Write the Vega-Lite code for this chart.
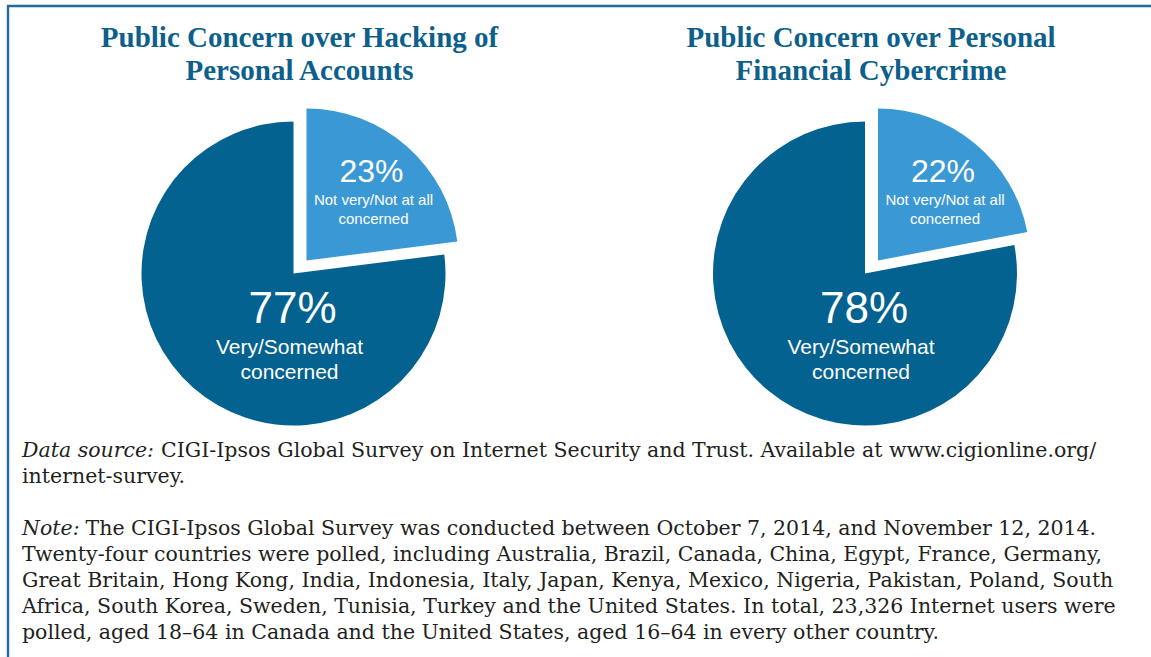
{
  "$schema": "https://vega.github.io/schema/vega-lite/v6.json",
  "width": 1155,
  "height": 663,
  "autosize": {"type": "none"},
  "padding": {"left": 8, "top": 6, "right": -12, "bottom": -12},
  "background": "white",
  "config": {"view": {"stroke": "#1f6b9b", "strokeWidth": 2.4}},
  "datasets": {
    "slices": [
      {"chart": "Hacking of Personal Accounts", "level": "Not very/Not at all\nconcerned", "share": 0.23},
      {"chart": "Hacking of Personal Accounts", "level": "Very/Somewhat\nconcerned", "share": 0.77},
      {"chart": "Personal Financial Cybercrime", "level": "Not very/Not at all\nconcerned", "share": 0.22},
      {"chart": "Personal Financial Cybercrime", "level": "Very/Somewhat\nconcerned", "share": 0.78}
    ],
    "titles": [
      {"chart": "Hacking of Personal Accounts", "title": "Public Concern over Hacking of\nPersonal Accounts"},
      {"chart": "Personal Financial Cybercrime", "title": "Public Concern over Personal\nFinancial Cybercrime"}
    ],
    "notes": [
      {"line": 1, "prefix": "Data source:", "body": "CIGI-Ipsos Global Survey on Internet Security and Trust. Available at www.cigionline.org/"},
      {"line": 2, "body": "internet-survey."},
      {"line": 4, "prefix": "Note:", "body": "The CIGI-Ipsos Global Survey was conducted between October 7, 2014, and November 12, 2014."},
      {"line": 5, "body": "Twenty-four countries were polled, including Australia, Brazil, Canada, China, Egypt, France, Germany,"},
      {"line": 6, "body": "Great Britain, Hong Kong, India, Indonesia, Italy, Japan, Kenya, Mexico, Nigeria, Pakistan, Poland, South"},
      {"line": 7, "body": "Africa, South Korea, Sweden, Tunisia, Turkey and the United States. In total, 23,326 Internet users were"},
      {"line": 8, "body": "polled, aged 18–64 in Canada and the United States, aged 16–64 in every other country."}
    ]
  },
  "layer": [
    {
      "data": {"name": "slices"},
      "transform": [
        {"stack": "share", "groupby": ["chart"], "sort": [{"field": "level", "order": "ascending"}], "as": ["t0", "t1"]},
        {"filter": {"field": "level", "equal": "Very/Somewhat\nconcerned"}}
      ],
      "mark": {"type": "arc", "radius": 152, "yOffset": -64, "fill": "#03628f"},
      "encoding": {
        "x": {"field": "chart", "type": "nominal", "axis": null, "sort": null,
              "scale": {"type": "point", "domain": ["Hacking of Personal Accounts", "Personal Financial Cybercrime"], "padding": 0.5105, "align": 0.4893}},
        "theta": {"field": "t0", "type": "quantitative", "scale": {"domain": [0, 1]}},
        "theta2": {"field": "t1"}
      }
    },
    {
      "data": {"name": "slices"},
      "transform": [
        {"stack": "share", "groupby": ["chart"], "sort": [{"field": "level", "order": "ascending"}], "as": ["t0", "t1"]},
        {"filter": {"field": "level", "equal": "Not very/Not at all\nconcerned"}}
      ],
      "mark": {"type": "arc", "radius": 152, "xOffset": 13, "yOffset": -77, "fill": "#3a98d4"},
      "encoding": {
        "x": {"field": "chart", "type": "nominal", "axis": null},
        "theta": {"field": "t0", "type": "quantitative"},
        "theta2": {"field": "t1"}
      }
    },
    {
      "data": {"name": "slices"},
      "transform": [{"filter": {"field": "level", "equal": "Very/Somewhat\nconcerned"}}],
      "mark": {"type": "text", "font": "Liberation Sans", "fontSize": 44, "fill": "white", "align": "center", "baseline": "middle", "dx": -1, "yOffset": -27.5},
      "encoding": {
        "x": {"field": "chart", "type": "nominal", "axis": null},
        "text": {"field": "share", "type": "quantitative", "format": ".0%"}
      }
    },
    {
      "data": {"name": "slices"},
      "transform": [{"filter": {"field": "level", "equal": "Very/Somewhat\nconcerned"}}],
      "mark": {"type": "text", "font": "Liberation Sans", "fontSize": 21, "lineHeight": 25, "lineBreak": "\n", "fill": "white", "align": "center", "baseline": "middle", "dx": -4, "yOffset": 10.5},
      "encoding": {
        "x": {"field": "chart", "type": "nominal", "axis": null},
        "text": {"field": "level", "type": "nominal"}
      }
    },
    {
      "data": {"name": "slices"},
      "transform": [{"filter": {"field": "level", "equal": "Not very/Not at all\nconcerned"}}],
      "mark": {"type": "text", "font": "Liberation Sans", "fontSize": 32, "fill": "white", "align": "center", "baseline": "middle", "dx": 78, "yOffset": -165.5},
      "encoding": {
        "x": {"field": "chart", "type": "nominal", "axis": null},
        "text": {"field": "share", "type": "quantitative", "format": ".0%"}
      }
    },
    {
      "data": {"name": "slices"},
      "transform": [{"filter": {"field": "level", "equal": "Not very/Not at all\nconcerned"}}],
      "mark": {"type": "text", "font": "Liberation Sans", "fontSize": 15, "lineHeight": 19, "lineBreak": "\n", "fill": "white", "align": "center", "baseline": "middle", "dx": 80, "yOffset": -137.5},
      "encoding": {
        "x": {"field": "chart", "type": "nominal", "axis": null},
        "text": {"field": "level", "type": "nominal"}
      }
    },
    {
      "data": {"name": "titles"},
      "mark": {"type": "text", "font": "Liberation Serif", "fontWeight": "bold", "fontSize": 29, "lineHeight": 33, "lineBreak": "\n", "fill": "#0d5f8c", "align": "center", "baseline": "middle", "dx": 6, "yOffset": -299.5},
      "encoding": {
        "x": {"field": "chart", "type": "nominal", "axis": null},
        "text": {"field": "title", "type": "nominal"}
      }
    },
    {
      "data": {"name": "notes"},
      "transform": [{"filter": "isValid(datum.prefix)"}],
      "mark": {"type": "text", "font": "DejaVu Serif", "fontStyle": "italic", "fontSize": 20.5, "fill": "#231f20", "align": "left", "baseline": "middle", "dx": -563.5},
      "encoding": {
        "y": {"field": "line", "type": "quantitative", "axis": null, "scale": {"domain": [-16.115, 9.385], "reverse": true, "zero": false, "nice": false}},
        "text": {"field": "prefix", "type": "nominal"}
      }
    },
    {
      "data": {"name": "notes"},
      "transform": [{"filter": "!isValid(datum.prefix)"}],
      "mark": {"type": "text", "font": "DejaVu Serif", "fontSize": 20.5, "fill": "#231f20", "align": "left", "baseline": "middle", "dx": -563.5},
      "encoding": {
        "y": {"field": "line", "type": "quantitative", "axis": null},
        "text": {"field": "body", "type": "nominal"}
      }
    },
    {
      "data": {"name": "notes"},
      "transform": [{"filter": {"field": "prefix", "equal": "Data source:"}}],
      "mark": {"type": "text", "font": "DejaVu Serif", "fontSize": 20.5, "fill": "#231f20", "align": "left", "baseline": "middle", "dx": -424.5},
      "encoding": {
        "y": {"field": "line", "type": "quantitative", "axis": null},
        "text": {"field": "body", "type": "nominal"}
      }
    },
    {
      "data": {"name": "notes"},
      "transform": [{"filter": {"field": "prefix", "equal": "Note:"}}],
      "mark": {"type": "text", "font": "DejaVu Serif", "fontSize": 20.5, "fill": "#231f20", "align": "left", "baseline": "middle", "dx": -500},
      "encoding": {
        "y": {"field": "line", "type": "quantitative", "axis": null},
        "text": {"field": "body", "type": "nominal"}
      }
    }
  ]
}
